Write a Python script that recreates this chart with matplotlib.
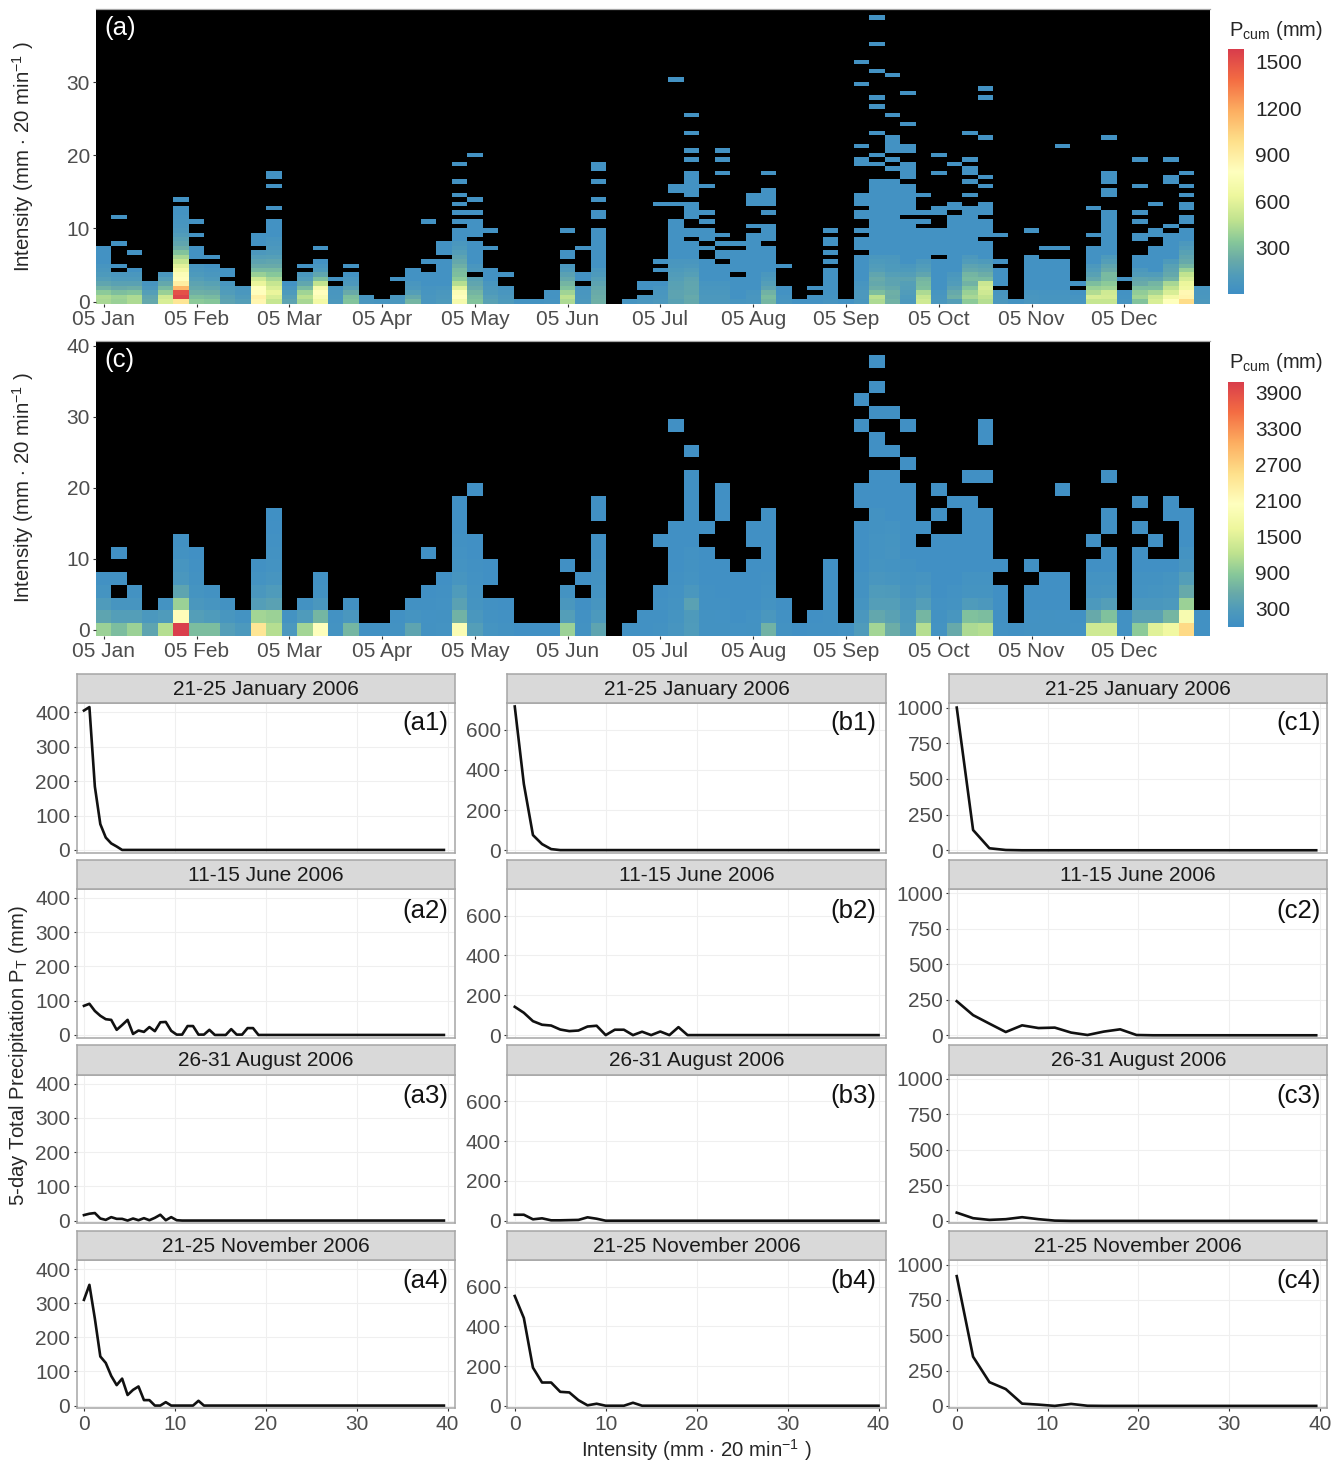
"""
plot.py -- 5-day intensity heatmaps (a, c) and event curves (a1..c4).
"""
import numpy as np
import matplotlib
matplotlib.use("Agg")
import matplotlib.pyplot as plt
from matplotlib.colors import LinearSegmentedColormap

plt.rcParams['font.family'] = ['Liberation Sans', 'DejaVu Sans']
plt.rcParams['mathtext.fontset'] = 'custom'
plt.rcParams['mathtext.rm'] = 'Liberation Sans'
plt.rcParams['mathtext.default'] = 'rm'

W, H = 1341, 1464

# --- heatmap data: occupied rows per 5-day column (bottom row = 0) ---
MONTHS = ["05 Jan", "05 Feb", "05 Mar", "05 Apr", "05 May", "05 Jun",
          "05 Jul", "05 Aug", "05 Sep", "05 Oct", "05 Nov", "05 Dec"]

A_FILLED = [
    "0-12", "0-6,8,13,19", "0-7,11", "0-4", "0-6", "0-21,23", "0-8,10-12,15,18", "0-8,10",
    "0-4,6,7", "0-3", "0-11,13-15", "0-18,21,26,28,29", "0-4", "0-6,8", "0-9,12", "0-3,5",
    "0-6,8", "0,1", "0", "0,1,5", "0-7", "0-6,9,18", "0-9,11-13", "0-16,18,20,22,24,27,31",
    "0-5,7-13,15-18,20,23,33", "0-7,12,16", "0-3,6", "0", "0", "0-2", "0-8,10,11,16", "0-3,5,6,12",
    "0-16,19,20,23,27,30,31", "", "0", "0,1,3,4", "0-4,7,9,22", "0-18,22,25,26,50",
    "0-13,15,16,19-22,24-29,32,34,38,42", "0-9,12,14-16,18,20,26",
    "0-8,10,11,13,15,29,32,34", "0-5,7-11,13", "0-15,17,22-24", "0-12,14-17,20,22-25,29",
    "0-3,8", "0", "0,1,3", "0-7,9,11,13,14,16", "0",
    "0-10,12-14,16,19,20,22-24,31,32,35,49,54", "0-27,31,33,38,44,46,52,58,64",
    "0-27,30,32,34-37,42,51", "0-18,20-26,28-31,34,35,40,47", "0-16,18,20,24",
    "0-9,11-16,20,21,29,33", "0-19,21,22,31", "0-21,24,27,29,30,32,38",
    "0-13,15-18,20-22,26,28,37,46,48", "0-2,4-7,9,15", "0", "0-10,16", "0-9,12", "0-9,12,35",
    "0-2,4", "0-12,15,21", "0-20,24,25,27-29,37", "0-2,5", "0-10,14,15,18,20,26,32",
    "0-12,15,16,22", "0-15,17,27,28,32", "0-16,18,19,21,22,24,26,29", "0-3",
]

# Pcum (mm) of the lowest rows of each column, panel (a)
A_LOW = [
    [420, 430, 350, 250, 180, 130, 100, 80, 60], [380, 390, 300, 220, 160, 110, 80],
    [430, 430, 320, 230, 160, 110, 80], [200, 180, 130, 90, 60],
    [560, 520, 380, 280, 200, 130, 80],
    [950, 1550, 1500, 1150, 900, 800, 760, 680, 600, 500, 420, 320, 230, 180, 150, 120, 90, 70, 60, 50, 40],
    [350, 300, 240, 200, 170, 130, 100, 80, 60], [330, 280, 230, 190, 150, 110, 80, 60],
    [170, 150, 120, 100, 70], [130, 110, 80, 60],
    [850, 880, 800, 780, 620, 520, 380, 280, 220, 170, 130, 90],
    [500, 560, 620, 560, 500, 420, 340, 280, 220, 180, 140, 110, 90, 70, 60],
    [170, 140, 100, 70], [420, 460, 400, 280, 190, 120, 80],
    [680, 740, 800, 700, 480, 300, 180, 100, 70], [90, 80, 70, 60],
    [320, 300, 220, 150, 90, 70], [70, 60], [60], [80, 70],
    [260, 200, 130, 90, 70], [70, 70, 60, 50], [100, 90, 80, 60],
    [700, 800, 750, 600, 450, 350, 300, 280, 240, 200, 170, 130, 100, 80],
    [320, 300, 260, 220, 180, 150, 110, 90, 70], [150, 130, 110, 90, 70],
    [100, 90, 70, 50], [40], [40], [50, 40, 40],
    [430, 470, 400, 310, 260, 200, 160, 110, 80], [90, 80, 70, 60],
    [240, 230, 220, 200, 170, 140, 100, 80], [], [50], [70, 60], [90, 80, 70, 60],
    [150, 170, 170, 160, 150, 130, 120, 100, 80, 70],
    [200, 210, 190, 190, 180, 170, 140, 120, 90, 70], [90, 90, 80, 70, 60],
    [90, 90, 80, 70, 60], [60], [70, 70, 60], [270, 290, 250, 170, 130, 100, 80],
    [60, 50], [30], [30, 30], [50, 40], [30], [80, 90, 90, 70, 60],
    [430, 460, 300, 230, 200, 220, 180, 130, 120, 100, 80],
    [250, 230, 240, 200, 170, 170, 140, 110, 100, 90, 80],
    [90, 100, 120, 130, 140, 170, 130, 100, 80],
    [530, 500, 430, 300, 280, 260, 180, 140, 120, 90], [80, 70, 60],
    [130, 240, 210, 160, 120, 100, 80],
    [350, 420, 380, 320, 250, 290, 260, 200, 170, 120, 90],
    [450, 480, 520, 550, 510, 280, 230, 180, 150, 110], [80, 70, 60], [40],
    [70, 70, 60], [60, 60, 50], [60, 60, 50], [60, 50],
    [500, 560, 440, 380, 300, 200, 150, 120, 90],
    [500, 550, 530, 400, 350, 280, 280, 220, 180, 130, 100], [50, 40],
    [320, 400, 360, 300, 220, 180, 120, 90], [560, 520, 420, 300, 260, 170, 120],
    [780, 680, 560, 480, 420, 250, 200, 170, 150, 110],
    [1000, 860, 840, 660, 630, 550, 480, 380, 270, 210, 180, 150, 120, 90], [90, 80, 70, 60],
]

C_FILLED = [
    "0-4", "0-2,4,6", "0-3", "0,1", "0-2", "0-7", "0-6", "0-3", "0-2", "0,1", "0-5", "0-9",
    "0,1", "0-2", "0-4", "0,1", "0-2", "0", "0", "0,1", "0-2", "0-3,6", "0-4", "0-10",
    "0-7,11", "0-2,4,5", "0-2", "0", "0", "0", "0-3,5", "0-2,4", "0-7,9,10", "", "0", "0,1",
    "0-3,7", "0-8,16", "0-12,14", "0-6,8", "0-5,9-11", "0-4", "0-5,7,8", "0-9", "0-2", "0",
    "0,1", "0-5", "0", "0-8,10,11,16,18", "0-12,14,15,17,19,21", "0-12,14,17", "0-11,13,16",
    "0-6,8", "0-7,9,11", "0-7,10", "0-10,12", "0-9,12,15,16", "0-3,5", "0", "0-3,5", "0-4",
    "0-4,11", "0,1", "0-5,7", "0-6,8,9,12", "0,1", "0-6,8,10", "0-5,7", "0-5,9,10", "0-9", "0,1",
]

# Pcum (mm) of the lowest rows of each column, panel (c)
C_LOW = [
    [1000, 450, 300, 120, 60], [750, 350, 150, 0, 60], [1000, 350, 150, 80], [450, 220],
    [1150, 300, 100], [4050, 2100, 1000, 450, 200, 150, 80, 50],
    [750, 350, 200, 120, 90, 60, 40], [750, 300, 150, 80], [350, 170, 80], [250, 100],
    [2450, 1050, 350, 200, 100, 60], [1150, 1000, 400, 300, 150, 100, 80, 60, 40, 30],
    [220, 100], [1050, 300, 90], [2000, 700, 200, 80, 50], [100, 70], [700, 200, 50],
    [60], [60], [80, 50], [450, 120, 50], [90, 70, 60, 40], [100, 80, 70, 50],
    [1900, 650, 400, 300, 150, 100, 70, 60, 40], [350, 200, 120, 100, 70, 50],
    [120, 90, 60, 0, 40], [90, 60, 40], [40], [40], [40], [1000, 350, 200, 100],
    [80, 60, 40], [450, 250, 150, 100, 80, 60], [], [50], [60, 50], [80, 60, 50, 40],
    [150, 120, 100, 70, 60], [300, 280, 400, 200, 100, 80, 70], [90, 80, 60, 50],
    [90, 70, 60], [70], [90, 70], [650, 200, 100, 70, 60], [80, 60], [40], [50, 40],
    [60, 50], [70], [300, 200, 120, 90, 80],
    [1050, 500, 350, 300, 180, 120, 110, 100, 90, 80],
    [600, 400, 350, 280, 150, 110, 130, 120, 100], [300, 250, 200, 130, 100, 90],
    [1150, 700, 350, 200, 130], [110, 90, 70], [550, 160, 100, 70],
    [1100, 800, 300, 120, 100], [1150, 750, 230, 120, 100], [70, 60], [60], [80, 70],
    [90, 80], [90, 70], [70, 60], [1350, 550, 250, 130, 100], [1350, 800, 350, 150, 100],
    [60, 60], [900, 400, 200, 110, 90], [1500, 400, 200, 120, 90],
    [1700, 700, 250, 150, 120], [2600, 1850, 1000, 550, 350, 150, 100], [50, 50],
]

A_TAIL = 30    # upper rows, all the same low blue
C_TAIL = 40

# --- event curves: first values of PT per intensity bin, zero afterwards ---
EVENTS = ["21-25 January 2006", "11-15 June 2006", "26-31 August 2006", "21-25 November 2006"]

A1 = [405, 415, 184, 75, 36, 19, 10]
A2 = [85, 91, 70, 56, 46, 44, 15, 29, 44, 3, 13, 9, 23, 11, 37, 38, 12, 1, 1, 26, 26, 1, 1, 15,
      0, 0, 0, 17, 1, 1, 20, 20]
A3 = [16, 20, 22, 6, 2, 10, 5, 5, 0, 6, 1, 7, 1, 8, 17, 1, 10, 1]
A4 = [310, 354, 255, 144, 125, 87, 60, 79, 31, 46, 56, 16, 16, 0, 0, 10, 0, 0, 0, 0, 0, 14]
B1 = [717, 330, 75, 30, 5]
B2 = [142, 112, 70, 52, 48, 28, 20, 23, 43, 47, 0, 27, 27, 0, 17, 0, 18, 0, 40]
B3 = [30, 30, 7, 12, 2, 2, 3, 4, 17, 10]
B4 = [553, 442, 192, 117, 117, 70, 67, 28, 2, 10, 0, 0, 0, 15]
C1 = [1000, 142, 14, 2]
C2 = [240, 142, 82, 23, 70, 51, 54, 19, 2, 26, 42, 2]
C3 = [58, 19, 7, 12, 26, 12, 2]
C4 = [918, 348, 168, 119, 16, 9, 0, 14, 1]

# blue stays blue for longer than in plain Spectral
SPECTRAL = [(0.0, "#3f8fc5"), (0.07, "#4f9bbb"), (0.14, "#6aaba8"), (0.21, "#86c79a"),
            (0.30, "#c0e38f"), (0.40, "#eef79d"), (0.50, "#ffffbf"), (0.625, "#fee08b"),
            (0.75, "#fdae61"), (0.875, "#f46d43"), (1.0, "#d93d4c")]
cmap = LinearSegmentedColormap.from_list("spec", SPECTRAL)
cmap.set_bad("black")

TICK_C = "#4d4d4d"
BORDER = "#a6a6a6"
FS_TICK = 15
FS_LAB = 14.7
FS_STRIP = 15
FS_TAG = 18.5


def px_axes(fig, l, t, r, b):
    return fig.add_axes([l/W, 1 - b/H, (r - l)/W, (b - t)/H])


def expand(spans):
    rows = []
    for part in spans.split(","):
        if not part:
            continue
        if "-" in part:
            a, b = part.split("-")
            rows.extend(range(int(a), int(b) + 1))
        else:
            rows.append(int(part))
    return rows


def make_grid(filled, low, tail, nrows):
    g = np.full((nrows, len(filled)), np.nan)
    for j, spans in enumerate(filled):
        for r in expand(spans):
            g[r, j] = low[j][r] if r < len(low[j]) and low[j][r] > 0 else tail
    return np.ma.masked_invalid(g)


def heat_panel(fig, t, b, grid, y_edges, vmax, yticks, ylim, tag):
    ax = px_axes(fig, 96, t, 1209.5, b)
    x_edges = np.arange(grid.shape[1] + 1) - 0.5
    ax.pcolormesh(x_edges, y_edges, grid, cmap=cmap, vmin=0, vmax=vmax,
                  linewidth=0, antialiased=False)
    ax.set_facecolor("black")
    ax.set_xlim(x_edges[0], x_edges[-1])
    ax.set_ylim(*ylim)
    ax.set_xticks(np.arange(len(MONTHS))*6)
    ax.set_xticklabels(MONTHS)
    ax.set_yticks(yticks)
    ax.tick_params(labelsize=FS_TICK, labelcolor=TICK_C, color="#333333", length=2.5, width=0.8, pad=2)
    for name, s in ax.spines.items():
        s.set_visible(name == "top")
        s.set_color(BORDER)
        s.set_linewidth(0.9)
    ax.text(8/1113.5, 1 - 19/(b - t), tag, transform=ax.transAxes, color="white",
            fontsize=FS_TAG, ha="left", va="center")
    return ax


def colorbar(fig, t, b, vmax, ticks, title_y):
    ax = px_axes(fig, 1228, t, 1244, b)
    grad = np.linspace(0, vmax, 256)[:, None]
    ax.imshow(grad, cmap=cmap, vmin=0, vmax=vmax, origin="lower", aspect="auto",
              extent=(0, 1, 0, vmax))
    ax.set_xticks([])
    ax.yaxis.tick_right()
    ax.set_yticks(ticks)
    ax.tick_params(axis="y", labelsize=FS_TICK, labelcolor="#262626", length=0, pad=8)
    for s in ax.spines.values():
        s.set_visible(False)
    fig.text(1229/W, 1 - title_y/H, r"$\mathrm{P_{cum}}$ (mm)", fontsize=14.5,
             color="#262626", ha="left", va="center")


fig = plt.figure(figsize=(W/100, H/100), dpi=100, facecolor="white")

# --- heatmaps ---
grid_a = make_grid(A_FILLED, A_LOW, A_TAIL, 66)
grid_c = make_grid(C_FILLED, C_LOW, C_TAIL, 23)
heat_panel(fig, 9, 303.5, grid_a, (np.arange(67) - 0.45)*0.606, 1584, [0, 10, 20, 30], (-0.27, 40.0), "(a)")
heat_panel(fig, 341, 636, grid_c, (np.arange(24) - 0.5)*1.8, 4080, [0, 10, 20, 30, 40], (-0.9, 40.7), "(c)")
colorbar(fig, 49, 294, 1584, [300, 600, 900, 1200, 1500], 30)
colorbar(fig, 381.7, 626.7, 4080, [300, 900, 1500, 2100, 2700, 3300, 3900], 362)

INT_LABEL = r"Intensity (mm $\cdot$ 20 min$^{-1}$ )"
fig.text(23/W, 1 - 157/H, INT_LABEL, rotation=90, fontsize=FS_LAB, color="#262626", ha="center", va="center")
fig.text(23/W, 1 - 488/H, INT_LABEL, rotation=90, fontsize=FS_LAB, color="#262626", ha="center", va="center")

# --- facet curves ---
COLS = [(76.5, 455), (507.3, 886), (949.3, 1327.3)]
ROWS = [(674, 703.3, 852.7), (860, 889, 1037.7), (1045, 1074.7, 1223.3), (1230.7, 1260.3, 1408.3)]
CURVES = [[A1, A2, A3, A4], [B1, B2, B3, B4], [C1, C2, C3, C4]]
STEPS = [0.6, 1.0, 1.8]
NPTS = [67, 41, 23]
YLIMS = [(-8, 426), (-13, 733), (-17, 1030)]
YTICKS = [[0, 100, 200, 300, 400], [0, 200, 400, 600], [0, 250, 500, 750, 1000]]
LETTERS = ["a", "b", "c"]
XLIM = (-0.82, 40.82)
TAG_RIGHT = [7, 10, 6.5]    # px in from the panel's right edge
TAG_DOWN = [20, 22, 21, 21]

for k, (l, r) in enumerate(COLS):
    for m, (st, pt, pb) in enumerate(ROWS):
        ax = px_axes(fig, l, pt, r, pb)
        vals = np.zeros(NPTS[k])
        vals[:len(CURVES[k][m])] = CURVES[k][m]
        ax.plot(np.arange(NPTS[k])*STEPS[k], vals, color="#111111", lw=1.9, solid_joinstyle="round", zorder=3)
        ax.set_xlim(*XLIM)
        ax.set_ylim(*YLIMS[k])
        ax.set_xticks([0, 10, 20, 30, 40])
        ax.set_yticks(YTICKS[k])
        ax.grid(True, color="#efefef", lw=0.8, zorder=0)
        ax.set_axisbelow(True)
        ax.tick_params(labelsize=FS_TICK, labelcolor=TICK_C, color="#333333", length=2.5, width=0.8, pad=2)
        if m < 3:
            ax.tick_params(axis="x", length=0, labelbottom=False)
        for s in ax.spines.values():
            s.set_color(BORDER)
            s.set_linewidth(1.1)
        ax.text(1 - TAG_RIGHT[k]/(r - l), 1 - TAG_DOWN[m]/(pb - pt), f"({LETTERS[k]}{m + 1})",
                transform=ax.transAxes, fontsize=FS_TAG, color="#111111", ha="right", va="center")
        # strip on top of the panel
        sx = px_axes(fig, l, st, r, pt)
        sx.set_facecolor("#d9d9d9")
        sx.set_xticks([])
        sx.set_yticks([])
        for s in sx.spines.values():
            s.set_color(BORDER)
            s.set_linewidth(1.1)
        sx.text(0.5, 0.47, EVENTS[m], transform=sx.transAxes, fontsize=FS_STRIP, color="#1a1a1a",
                ha="center", va="center")

fig.text(19/W, 1 - 1056/H, r"5-day Total Precipitation $\mathrm{P_T}$ (mm)", rotation=90, fontsize=14.6,
         color="#262626", ha="center", va="center")
fig.text(696/W, 1 - 1450/H, INT_LABEL, fontsize=FS_LAB, color="#262626", ha="center", va="center")

fig.savefig("out.png", dpi=100)
plt.close(fig)
print("Saved: out.png")
